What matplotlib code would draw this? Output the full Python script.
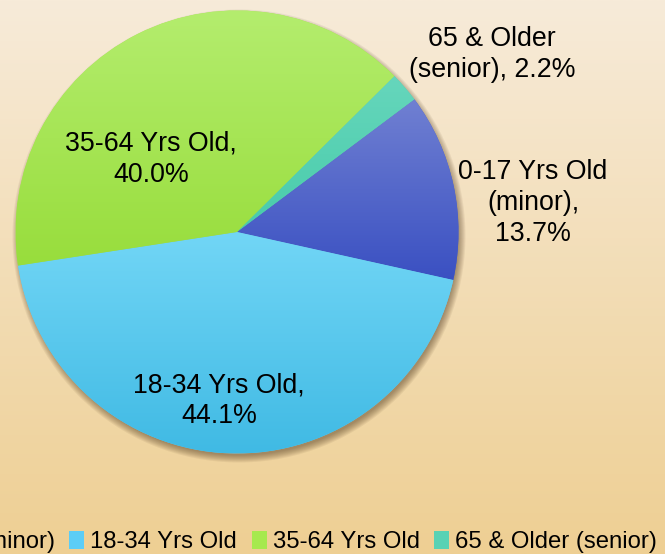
import numpy as np
import matplotlib.pyplot as plt
from matplotlib.patches import Patch, Circle

# Data
categories = ["0-17 Yrs Old (minor)", "18-34 Yrs Old", "35-64 Yrs Old", "65 & Older (senior)"]
shares = [13.7, 44.1, 40.0, 2.2]
slice_labels = ["0-17 Yrs Old\n(minor),\n13.7%", "18-34 Yrs Old,\n44.1%",
                "35-64 Yrs Old,\n40.0%", "65 & Older\n(senior), 2.2%"]

# gradient colours per slice (top, bottom)
top_colors = ["#7080d2", "#72d6f6", "#b4ed6e", "#66d6bc"]
bottom_colors = ["#3a50c2", "#40bae4", "#98dd3c", "#48ccaa"]
mid_colors = ["#4a62d0", "#5ccdf6", "#a6e94e", "#58d2b4"]

W, H = 665, 554
plt.rcParams['font.family'] = ['Liberation Sans', 'DejaVu Sans']

fig = plt.figure(figsize=(W / 100, H / 100), dpi=100)

# background gradient
ax_bg = fig.add_axes([0, 0, 1, 1], zorder=0)
c_top = np.array(plt.matplotlib.colors.to_rgb("#f7ebd9"))
c_bot = np.array(plt.matplotlib.colors.to_rgb("#eecf93"))
t = np.linspace(0, 1, 256)[:, None, None]
ax_bg.imshow(c_top * (1 - t) + c_bot * t, aspect='auto', extent=(0, 1, 0, 1))
ax_bg.axis('off')

ax = fig.add_axes([0, 0, 1, 1], zorder=1)
ax.patch.set_alpha(0)

cx, cy, r = 237, H - 232, 221.5

# soft shadow
for i in range(8):
    ax.add_patch(Circle((cx + 2, cy - 4), r + 5 - i, color="#4a3218", alpha=0.07,
                        lw=0, zorder=0))

wedges, _ = ax.pie(shares, colors=mid_colors, startangle=36.8, counterclock=False,
                   center=(cx, cy), radius=r, wedgeprops=dict(linewidth=0))

# vertical gradient fill inside each wedge
for w, ct, cb in zip(wedges, top_colors, bottom_colors):
    ext = w.get_path().get_extents()
    a = np.array(plt.matplotlib.colors.to_rgb(ct))
    b = np.array(plt.matplotlib.colors.to_rgb(cb))
    g = a * (1 - t) + b * t
    im = ax.imshow(g, extent=(ext.x0, ext.x1, ext.y0, ext.y1), aspect='auto', zorder=2)
    im.set_clip_path(w)

# slice labels (last-line baseline positions)
label_pos = [(533, 241), (219, 423), (151, 182), (492, 77)]
for (lx, ly), txt in zip(label_pos, slice_labels):
    ax.text(lx, H - ly, txt, ha='center', va='baseline', multialignment='center',
            fontsize=19.3, linespacing=1.25, color='black', zorder=5)

ax.set_xlim(0, W)
ax.set_ylim(0, H)
ax.set_aspect('equal')
ax.axis('off')

handles = [Patch(facecolor=c, edgecolor='none') for c in mid_colors]
fig.legend(handles, categories, loc='center right', bbox_to_anchor=(657 / W, 1 - 542 / H),
           ncol=4, frameon=False, fontsize=17.2, handlelength=0.62, handleheight=0.8,
           handletextpad=0.25, columnspacing=0.62, borderpad=0, borderaxespad=0)

fig.savefig("out.png", dpi=100)
